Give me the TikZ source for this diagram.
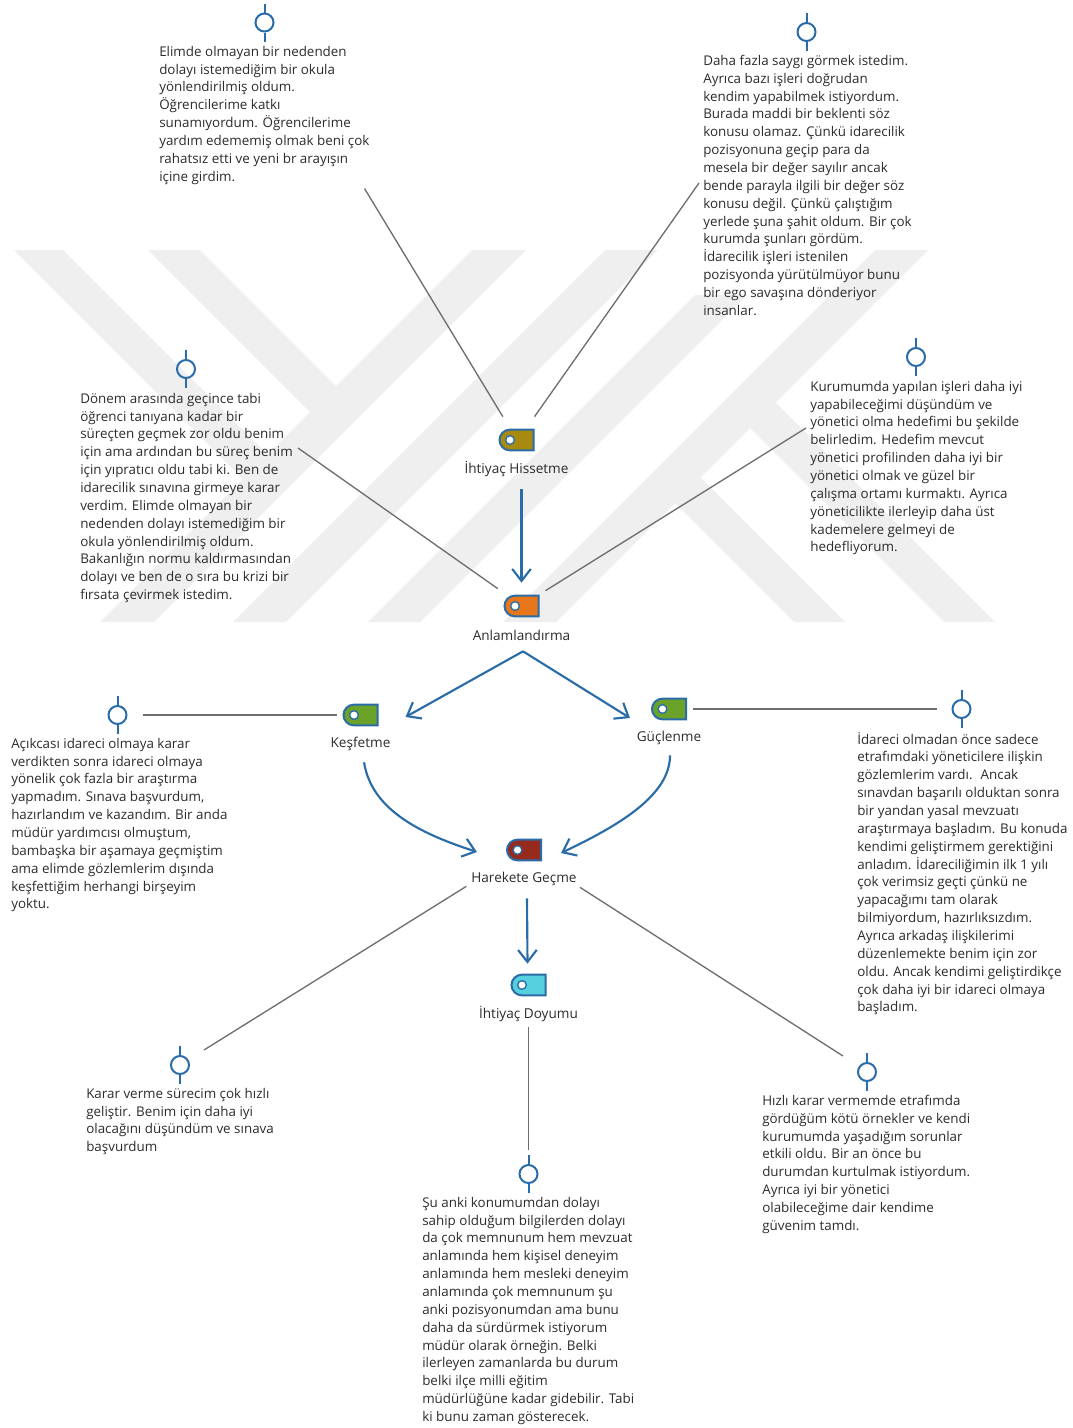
\documentclass[tikz,border=0pt]{standalone}
\usepackage{fontspec}
\setmainfont{Open Sans}
\usetikzlibrary{arrows.meta,shapes.misc}
\definecolor{wmarkgray}{HTML}{EFEFEF}
\definecolor{tiegray}{HTML}{6E6E6E}
\definecolor{flowblue}{HTML}{2A6CA8}
\definecolor{textdark}{HTML}{2B2B2B}
\definecolor{tagolive}{HTML}{A88A10}
\definecolor{tagorange}{HTML}{E8761A}
\definecolor{taggreen}{HTML}{6BA32A}
\definecolor{tagred}{HTML}{962A1C}
\definecolor{tagcyan}{HTML}{55D0DC}
\tikzset{
  tagbox/.style={rounded rectangle,rounded rectangle right arc=none,draw=flowblue,line width=1.5pt,
    minimum width=25.5pt,minimum height=15.5pt,inner sep=0pt},
  taghole/.style={circle,draw=flowblue,fill=white,line width=1pt,minimum size=6.5pt,inner sep=0pt},
  taglabel/.style={font=\fontsize{10.2}{12}\selectfont,text=textdark,inner sep=0pt},
  pinring/.style={circle,draw=flowblue,fill=none,line width=1.5pt,minimum size=13.5pt,inner sep=0pt},
  pinstem/.style={draw=flowblue,line width=1.5pt},
  quotetext/.style={anchor=north west,align=left,inner sep=0pt,text=textdark,
    font=\fontsize{10.05}{13.39}\selectfont},
  tie/.style={draw=tiegray,line width=1pt},
  flow/.style={draw=flowblue,line width=1.6pt,-{Straight Barb[length=9pt,width=14pt,line width=1.6pt]}},
}
\begin{document}
\begin{tikzpicture}
% 0.75pt = 1 pixel of the page
[x=0.75pt,y=-0.75pt]
\useasboundingbox (0,0) rectangle (1072,1428);
% watermark: bands are given by x+y (up) and x-y (down)
\foreach \lo/\hi/\top in {722/776/250,855/908/250,990/1042/295,1125/1178/250}{
	\fill[wmarkgray] ({\lo-\top},\top) -- ({\hi-\top},\top) -- ({\hi-622},622) -- ({\lo-622},622) -- cycle;
	}
\foreach \lo/\hi/\top/\bot in {-236/-187/250/480,-102/-50/250/412.5,322/373/402/622,172/223/477/622}{
	\fill[wmarkgray] ({\lo+\top},\top) -- ({\hi+\top},\top) -- ({\hi+\bot},\bot) -- ({\lo+\bot},\bot) -- cycle;
	}
% tags and their labels
\foreach \name/\x/\y/\tagcol/\lab in {hissetme/516.5/440/tagolive/İhtiyaç Hissetme,
	anlamlandirma/521.5/606/tagorange/Anlamlandırma,kesfetme/360.5/715/taggreen/Keşfetme,
	guclenme/669/709/taggreen/Güçlenme,harekete/524/850/tagred/Harekete Geçme,
	doyum/528.5/985/tagcyan/İhtiyaç Doyumu}{
	\node[tagbox,fill=\tagcol] (\name) at (\x,\y) {};
	\node[taghole] (\name hole) at ({\x-6.5},\y) {};
	\node[taglabel] (\name lbl) at (\x,{\y+29}) {\lab};
	}
% pins above the quotes
\foreach \name/\x/\y in {elimdepin/264.5/22.5,dahapin/806.5/32,donempin/186/369,kurumpin/916/357,
	acikpin/117.5/715,idarecipin/961.5/709,kararpin/180/1065,supin/528.5/1174,hizlipin/867/1072}{
	\node[pinring] (\name) at (\x,\y) {};
	\draw[pinstem] (\name.north) -- ++(0,-9);
	\draw[pinstem] (\name.south) -- ++(0,9);
	}
% quotes
\node[quotetext] (elimde) at (159,45.8) {Elimde olmayan bir nedenden\\dolayı istemediğim bir okula\\yönlendirilmiş oldum.\\Öğrencilerime katkı\\sunamıyordum. Öğrencilerime\\yardım edememiş olmak beni çok\\rahatsız etti ve yeni br arayışın\\içine girdim.};
\node[quotetext] (daha) at (703,54.8) {Daha fazla saygı görmek istedim.\\Ayrıca bazı işleri doğrudan\\kendim yapabilmek istiyordum.\\Burada maddi bir beklenti söz\\konusu olamaz. Çünkü idarecilik\\pozisyonuna geçip para da\\mesela bir değer sayılır ancak\\bende parayla ilgili bir değer söz\\konusu değil. Çünkü çalıştığım\\yerlede şuna şahit oldum. Bir çok\\kurumda şunları gördüm.\\İdarecilik işleri istenilen\\pozisyonda yürütülmüyor bunu\\bir ego savaşına dönderiyor\\insanlar.};
\node[quotetext] (donem) at (80,392.8) {Dönem arasında geçince tabi\\öğrenci tanıyana kadar bir\\süreçten geçmek zor oldu benim\\için ama ardından bu süreç benim\\için yıpratıcı oldu tabi ki. Ben de\\idarecilik sınavına girmeye karar\\verdim. Elimde olmayan bir\\nedenden dolayı istemediğim bir\\okula yönlendirilmiş oldum.\\Bakanlığın normu kaldırmasından\\dolayı ve ben de o sıra bu krizi bir\\fırsata çevirmek istedim.};
\node[quotetext] (kurum) at (810,380.8) {Kurumumda yapılan işleri daha iyi\\yapabileceğimi düşündüm ve\\yönetici olma hedefimi bu şekilde\\belirledim. Hedefim mevcut\\yönetici profilinden daha iyi bir\\yönetici olmak ve güzel bir\\çalışma ortamı kurmaktı. Ayrıca\\yöneticilikte ilerleyip daha üst\\kademelere gelmeyi de\\hedefliyorum.};
\node[quotetext] (acik) at (11,737.8) {Açıkcası idareci olmaya karar\\verdikten sonra idareci olmaya\\yönelik çok fazla bir araştırma\\yapmadım. Sınava başvurdum,\\hazırlandım ve kazandım. Bir anda\\müdür yardımcısı olmuştum,\\bambaşka bir aşamaya geçmiştim\\ama elimde gözlemlerim dışında\\keşfettiğim herhangi birşeyim\\yoktu.};
\node[quotetext] (idareci) at (857,731.8) {İdareci olmadan önce sadece\\etrafımdaki yöneticilere ilişkin\\gözlemlerim vardı.~ Ancak\\sınavdan başarılı olduktan sonra\\bir yandan yasal mevzuatı\\araştırmaya başladım. Bu konuda\\kendimi geliştirmem gerektiğini\\anladım. İdareciliğimin ilk 1 yılı\\çok verimsiz geçti çünkü ne\\yapacağımı tam olarak\\bilmiyordum, hazırlıksızdım.\\Ayrıca arkadaş ilişkilerimi\\düzenlemekte benim için zor\\oldu. Ancak kendimi geliştirdikçe\\çok daha iyi bir idareci olmaya\\başladım.};
\node[quotetext] (karar) at (86,1087.8) {Karar verme sürecim çok hızlı\\geliştir. Benim için daha iyi\\olacağını düşündüm ve sınava\\başvurdum};
\node[quotetext] (su) at (422,1196.8) {Şu anki konumumdan dolayı\\sahip olduğum bilgilerden dolayı\\da çok memnunum hem mevzuat\\anlamında hem kişisel deneyim\\anlamında hem mesleki deneyim\\anlamında çok memnunum şu\\anki pozisyonumdan ama bunu\\daha da sürdürmek istiyorum\\müdür olarak örneğin. Belki\\ilerleyen zamanlarda bu durum\\belki ilçe milli eğitim\\müdürlüğüne kadar gidebilir. Tabi\\ki bunu zaman gösterecek.};
\node[quotetext] (hizli) at (762,1094.8) {Hızlı karar vermemde etrafımda\\gördüğüm kötü örnekler ve kendi\\kurumumda yaşadığım sorunlar\\etkili oldu. Bir an önce bu\\durumdan kurtulmak istiyordum.\\Ayrıca iyi bir yönetici\\olabileceğime dair kendime\\güvenim tamdı.};
% free ends of the ties next to the quotes
\coordinate (elimdeend) at (364.5,188.5);
\coordinate (dahaend) at (699,183);
\coordinate (donemend) at (298,448);
\coordinate (kurumend) at (806,428);
% grey ties
\draw[tie] (elimdeend) -- ([shift={(-7,-12)}]hissetme.north west);
\draw[tie] (dahaend) -- ([shift={(0,-12)}]hissetme.north east);
\draw[tie] (donemend) -- ([shift={(-17,-6)}]anlamlandirma.north west);
\draw[tie] (kurumend) -- ([shift={(6,-4)}]anlamlandirma.north east);
\draw[tie] ([shift={(15,0)}]acikpin.east) -- ([shift={(-6,0)}]kesfetme.west);
\draw[tie] ([shift={(6,0)}]guclenme.east) -- ([shift={(-15,0)}]idarecipin.west);
\draw[tie] ([shift={(14,-15)}]kararpin.east) -- ([shift={(-51,25)}]harekete.south west);
\draw[tie] ([shift={(38,26)}]harekete.south east) -- ([shift={(-14,-16)}]hizlipin.west);
\draw[tie] ([shift={(0,31)}]doyum.south) -- ([shift={(0,-14)}]supin.north);
% blue arrows
\draw[flow] ([shift={(5,38)}]hissetme.south) -- ([shift={(0,-12)}]anlamlandirma.north);
\draw[flow] ([shift={(1.5,34)}]anlamlandirma.south) -- ([shift={(27,2)}]kesfetme.east);
\draw[flow] ([shift={(1.5,34)}]anlamlandirma.south) -- ([shift={(-21,9)}]guclenme.west);
\draw[flow] ([shift={(3.5,36)}]kesfetme.south) .. controls (372,812) and (425,835) .. ([shift={(-29,2)}]harekete.west);
\draw[flow] ([shift={(1,35)}]guclenme.south) .. controls (670,795) and (620,825) .. ([shift={(19,3)}]harekete.east);
\draw[flow] ([shift={(3,37)}]harekete.south) -- ([shift={(-1,-10)}]doyum.north);
\end{tikzpicture}
\end{document}
